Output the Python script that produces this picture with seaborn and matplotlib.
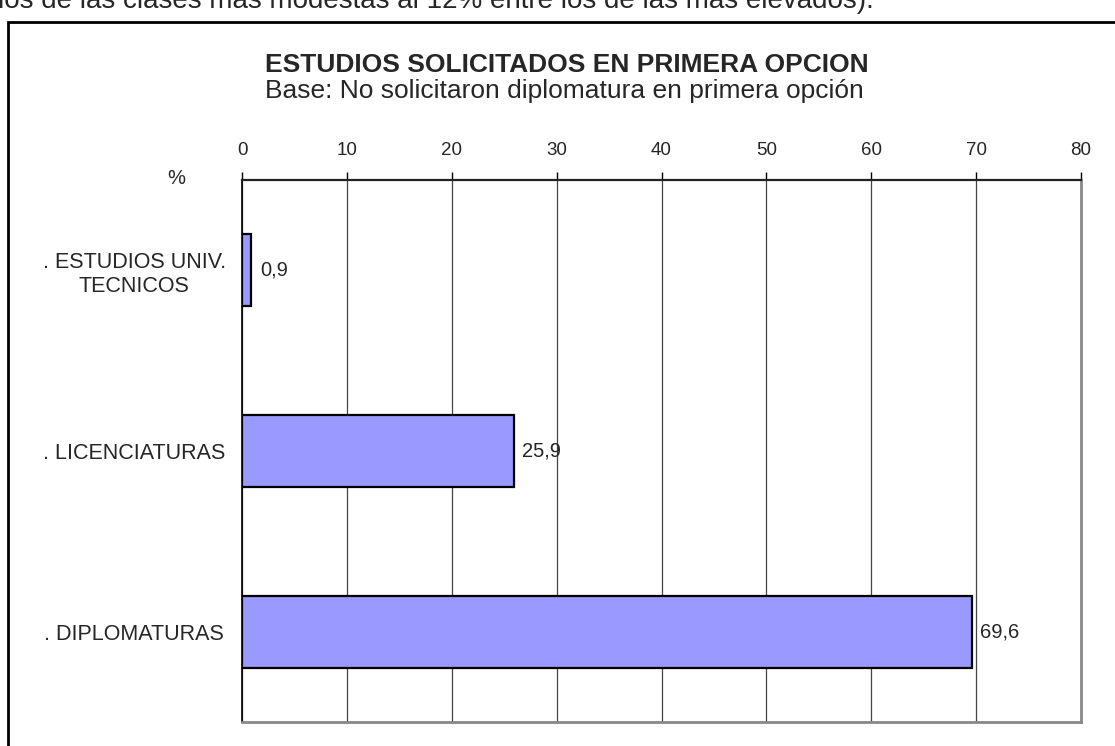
import matplotlib
matplotlib.use("Agg")
import matplotlib.pyplot as plt
import matplotlib.patches as mpatches
import seaborn as sns
import pandas as pd

# datos
categorias = [". ESTUDIOS UNIV.\nTECNICOS", ". LICENCIATURAS", ". DIPLOMATURAS"]
valores = [0.9, 25.9, 69.6]
etiquetas = ["0,9", "25,9", "69,6"]
ticks_x = [0, 10, 20, 30, 40, 50, 60, 70, 80]

df = pd.DataFrame({"cat": categorias, "val": valores})

sns.set_style("white")
plt.rcParams["font.family"] = ["Liberation Sans", "DejaVu Sans"]

W, H = 1115, 746
fig = plt.figure(figsize=(W / 100, H / 100), dpi=100)

# marco exterior (cortado a la derecha y abajo)
fig.patches.append(mpatches.Rectangle((8 / W, -0.1), 1.2, 1 - 22 / H + 0.1,
                                      transform=fig.transFigure, fill=False,
                                      edgecolor="black", linewidth=2))

# texto del documento cortado arriba
fig.text(-2 / W, 1 - 8 / H, "los de las clases más modestas al 12% entre los de las más elevados).",
         fontsize=20, ha="left", va="baseline")

ax = fig.add_axes([242 / W, 1 - 722 / H, (1081 - 242) / W, (722 - 180) / H])

sns.barplot(data=df, x="val", y="cat", orient="h", color="#9999FF",
            edgecolor="black", linewidth=1.6, width=0.4, saturation=1, ax=ax, zorder=3)

ax.set_xlim(0, 80)
ax.set_ylim(2.5, -0.5)
ax.set_xticks(ticks_x)
ax.xaxis.tick_top()
ax.tick_params(axis="x", direction="out", length=6, width=1, labelsize=13.5, pad=9, color="black")
ax.grid(axis="x", color="#444444", linewidth=0.9, zorder=0)
ax.set_xlabel("")
ax.set_ylabel("")

ax.set_yticks([0, 1, 2])
ax.set_yticklabels(categorias, fontsize=15.5, ha="center")
ax.tick_params(axis="y", length=0, pad=77.5)
ax.set_yticks([0.5, 1.5, 2.5], minor=True)
ax.tick_params(axis="y", which="minor", length=5, direction="out", color="black")

ax.spines["top"].set_color("#222222")
ax.spines["top"].set_linewidth(1.6)
ax.spines["left"].set_color("black")
ax.spines["left"].set_linewidth(1.2)
for s in ["right", "bottom"]:
    ax.spines[s].set_color("#888888")
    ax.spines[s].set_linewidth(2)

for i, (v, t) in enumerate(zip(valores, etiquetas)):
    ax.text(v + 0.8, i, t, fontsize=14.5, va="center", ha="left")

fig.text(176 / W, 1 - 178 / H, "%", fontsize=14.5, ha="center", va="center")
fig.text(567 / W, 1 - 72 / H, "ESTUDIOS SOLICITADOS EN PRIMERA OPCION",
         fontsize=19, fontweight="bold", ha="center", va="baseline")
fig.text(564 / W, 1 - 98 / H, "Base: No solicitaron diplomatura en primera opción",
         fontsize=19, ha="center", va="baseline")

fig.savefig("out.png", dpi=100)
